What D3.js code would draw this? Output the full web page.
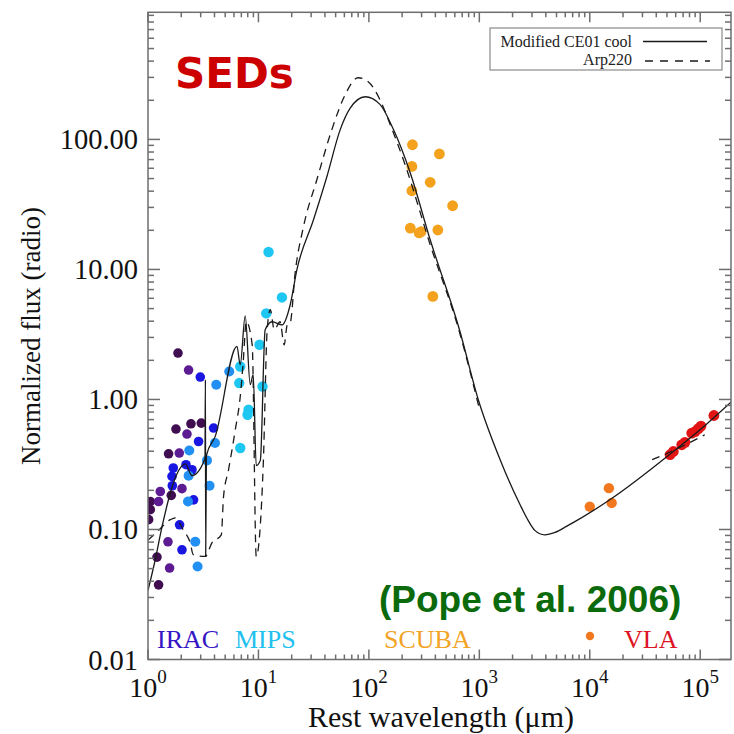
<!DOCTYPE html>
<html>
<head>
<meta charset="utf-8">
<script src="https://cdn.jsdelivr.net/npm/d3@7"></script>
<style>
  body { margin: 0; background: #fff; }
  svg { display: block; }
</style>
</head>
<body>
<svg id="chart" width="734" height="734"></svg>
<script>
// ---- Templates: [rest wavelength (um), normalized flux] ----
const modelCE01 = [
  [1.0, 0.034], [1.16, 0.058], [1.34, 0.105], [1.59, 0.19], [1.80, 0.26],
  [2.18, 0.32], [2.50, 0.26], [3.28, 0.35], [3.31, 1.42], [3.33, 0.062],
  [3.38, 0.37], [4.06, 0.52], [6.39, 2.56], [6.84, 1.85], [7.59, 4.4],
  [8.43, 1.30], [8.97, 1.55], [9.55, 0.31], [10.4, 0.34], [11.5, 3.43],
  [13.3, 3.96], [16.4, 3.75], [19.4, 5.35], [22.3, 9.95], [31.5, 24.1],
  [41.7, 51.9], [55.0, 119], [67.7, 174], [92.7, 213], [126, 186],
  [167, 119], [237, 55.2], [359, 16.9], [661, 3.44], [977, 1.0],
  [1543, 0.344], [2340, 0.155], [2700, 0.122], [3200, 0.098], [3900, 0.091],
  [4850, 0.095], [6200, 0.106], [15300, 0.17], [57100, 0.398], [99600, 0.585],
  [192800, 0.966]
];
const arp220 = [
  [1.0, 0.083], [1.21, 0.096], [1.59, 0.119], [1.77, 0.123], [2.08, 0.0995],
  [2.41, 0.079], [2.57, 0.064], [3.30, 0.062], [3.79, 0.079], [4.61, 0.091],
  [4.83, 0.179], [5.36, 0.288], [6.17, 0.585], [6.84, 1.05], [7.28, 1.95],
  [7.76, 3.96], [8.78, 2.63], [9.55, 0.062], [11.07, 0.326], [12.0, 3.44],
  [12.8, 4.9], [13.9, 3.44], [15.7, 3.96], [17.1, 2.63], [18.2, 3.74],
  [19.4, 3.89], [21.5, 9.42], [25.6, 21.4], [33.8, 49], [46.2, 119],
  [61, 221], [80, 298], [98.6, 278], [126, 202], [156, 130],
  [213, 63.8], [359, 15.5], [661, 3.3], [1000, 0.85]
];
const arp220Radio = [[36700, 0.344], [59100, 0.41], [110000, 0.535]];

// ---- Photometry ----
const iracDark = [
  [1.869, 2.275], [1.792, 0.592], [2.449, 0.650], [3.037, 0.658], [1.536, 0.382],
  [1.625, 0.183], [1.049, 0.164], [1.049, 0.142], [1.013, 0.119], [1.206, 0.0613],
  [1.247, 0.0375]
];
const iracPurple = [
  [2.331, 1.684], [2.254, 0.542], [1.920, 0.387], [2.031, 0.206], [1.292, 0.196],
  [1.247, 0.164], [1.517, 0.0804], [1.569, 0.0505]
];
const iracBlue = [
  [2.974, 1.487], [3.924, 0.603], [2.870, 0.475], [1.694, 0.297], [1.649, 0.256],
  [2.207, 0.315], [2.501, 0.288], [1.660, 0.217], [2.586, 0.169], [1.932, 0.1087],
  [2.031, 0.0698]
];
const mipsBlue = [
  [4.150, 1.297], [5.441, 1.642], [4.040, 0.462], [2.365, 0.405], [3.420, 0.340],
  [2.331, 0.259], [3.610, 0.217], [2.301, 0.164], [2.679, 0.0804], [2.811, 0.0519]
];
const mipsCyan = [
  [6.844, 1.794], [6.702, 1.337], [10.23, 2.636], [10.89, 1.259], [8.136, 0.833],
  [7.968, 0.763], [6.844, 0.423], [12.34, 13.61], [16.32, 6.09], [11.77, 4.59]
];
const scuba = [
  [248, 91.0], [435, 77.3], [245, 62.0], [359, 46.8], [245, 40.3], [573, 30.9],
  [237, 20.8], [285, 19.1], [297, 19.5], [421, 20.1], [379, 6.2]
];
const radio14 = [[10000, 0.150], [14900, 0.208], [15800, 0.160]];
const vla = [
  [57100, 0.398], [53300, 0.376], [68000, 0.448], [72800, 0.468], [83800, 0.551],
  [89800, 0.565], [96200, 0.596], [101700, 0.624], [133000, 0.753]
];

// ---- Axis ticks ----
const yTickValues = [0.01, 0.1, 1, 10, 100];
const yTickLabels = ["0.01", "0.10", "1.00", "10.00", "100.00"];
const xTickExponents = [0, 1, 2, 3, 4, 5];

const svg = d3.select("#chart");
const L = 148, R = 731, T = 12.3, B = 659.5;

const x = d3.scaleLog().domain([1, 1.9e5]).range([L, R]);
const y = d3.scaleLog().domain([0.01, 950]).range([B, T]);

const serif = "'Liberation Serif', 'DejaVu Serif', serif";
const axisColor = "#6e6e6e";

// clip for the plotted data
svg.append("defs").append("clipPath").attr("id", "plotClip")
  .append("rect").attr("x", L).attr("y", T).attr("width", R - L).attr("height", B - T);

const plot = svg.append("g").attr("clip-path", "url(#plotClip)");

// photometry points
const groups = [
  { data: iracDark, color: "#3f0d50", r: 4.8 },
  { data: iracPurple, color: "#5c1b92", r: 4.8 },
  { data: iracBlue, color: "#1a16e2", r: 4.8 },
  { data: mipsBlue, color: "#2190f2", r: 5.0 },
  { data: mipsCyan, color: "#1ec6f2", r: 5.2 },
  { data: scuba, color: "#f4a21e", r: 5.4 },
  { data: radio14, color: "#f27820", r: 5.2 },
  { data: vla, color: "#e21414", r: 5.4 }
];
groups.forEach(g => {
  plot.append("g").selectAll("circle").data(g.data).join("circle")
    .attr("cx", d => x(d[0])).attr("cy", d => y(d[1]))
    .attr("r", g.r).attr("fill", g.color);
});

// templates
const line = d3.line().x(d => x(d[0])).y(d => y(d[1])).curve(d3.curveMonotoneX);
plot.append("path").datum(modelCE01).attr("d", line)
  .attr("fill", "none").attr("stroke", "#1a1a1a").attr("stroke-width", 1.3);
[arp220, arp220Radio].forEach(seg => {
  plot.append("path").datum(seg).attr("d", line)
    .attr("fill", "none").attr("stroke", "#1a1a1a").attr("stroke-width", 1.3)
    .attr("stroke-dasharray", "8,6");
});

// ---- frame and ticks ----
const axes = svg.append("g").attr("stroke", axisColor).attr("stroke-width", 1.5);
axes.append("rect").attr("x", L).attr("y", T).attr("width", R - L).attr("height", B - T)
  .attr("fill", "none");

const xMajor = xTickExponents.map(e => Math.pow(10, e));
const xMinor = [];
xTickExponents.forEach(e => {
  for (let k = 2; k <= 9; k++) {
    const v = k * Math.pow(10, e);
    if (v < 1.9e5) xMinor.push(v);
  }
});
xMajor.forEach(v => {
  axes.append("line").attr("x1", x(v)).attr("x2", x(v)).attr("y1", B).attr("y2", B - 10);
  axes.append("line").attr("x1", x(v)).attr("x2", x(v)).attr("y1", T).attr("y2", T + 10);
});
xMinor.forEach(v => {
  axes.append("line").attr("x1", x(v)).attr("x2", x(v)).attr("y1", B).attr("y2", B - 5);
  axes.append("line").attr("x1", x(v)).attr("x2", x(v)).attr("y1", T).attr("y2", T + 5);
});

const yMinor = [];
[-2, -1, 0, 1, 2].forEach(e => {
  for (let k = 2; k <= 9; k++) {
    const v = k * Math.pow(10, e);
    if (v < 950) yMinor.push(v);
  }
});
yTickValues.forEach(v => {
  axes.append("line").attr("x1", L).attr("x2", L + 12).attr("y1", y(v)).attr("y2", y(v));
  axes.append("line").attr("x1", R).attr("x2", R - 12).attr("y1", y(v)).attr("y2", y(v));
});
yMinor.forEach(v => {
  axes.append("line").attr("x1", L).attr("x2", L + 6).attr("y1", y(v)).attr("y2", y(v));
  axes.append("line").attr("x1", R).attr("x2", R - 6).attr("y1", y(v)).attr("y2", y(v));
});

// y tick labels
svg.append("g").selectAll("text").data(yTickValues).join("text")
  .attr("x", 138).attr("y", d => y(d) + 10)
  .attr("text-anchor", "end")
  .attr("font-family", serif).attr("font-size", 28.5).attr("fill", "#111")
  .text((d, i) => yTickLabels[i]);

// x tick labels: 10^n
const xl = svg.append("g").selectAll("text").data(xTickExponents).join("text")
  .attr("x", d => x(Math.pow(10, d)))
  .attr("y", 697)
  .attr("text-anchor", "middle")
  .attr("font-family", serif).attr("font-size", 28).attr("fill", "#111");
xl.append("tspan").text("10");
xl.append("tspan").attr("font-size", 19).attr("dy", -14).text(d => d);

// axis titles
svg.append("text").attr("x", 441).attr("y", 727).attr("text-anchor", "middle")
  .attr("font-family", serif).attr("font-size", 30).attr("fill", "#111")
  .text("Rest wavelength (\u03bcm)");
svg.append("text")
  .attr("transform", "translate(40,336) rotate(-90)")
  .attr("text-anchor", "middle")
  .attr("font-family", serif).attr("font-size", 27).attr("fill", "#111")
  .text("Normalized flux (radio)");

// legend
const lg = svg.append("g");
lg.append("rect").attr("x", 490).attr("y", 28).attr("width", 232).attr("height", 42)
  .attr("fill", "#fff").attr("stroke", "#8a8a8a").attr("stroke-width", 1.2);
lg.append("text").attr("x", 632).attr("y", 46.5).attr("text-anchor", "end")
  .attr("font-family", serif).attr("font-size", 16).attr("fill", "#222")
  .text("Modified CE01 cool");
lg.append("text").attr("x", 632).attr("y", 65).attr("text-anchor", "end")
  .attr("font-family", serif).attr("font-size", 16).attr("fill", "#222")
  .text("Arp220");
lg.append("line").attr("x1", 643).attr("x2", 707).attr("y1", 41.5).attr("y2", 41.5)
  .attr("stroke", "#1a1a1a").attr("stroke-width", 1.3);
lg.append("line").attr("x1", 645).attr("x2", 710).attr("y1", 61).attr("y2", 61)
  .attr("stroke", "#1a1a1a").attr("stroke-width", 1.3).attr("stroke-dasharray", "8,7");

// annotations
svg.append("text").attr("x", 175).attr("y", 88)
  .attr("font-family", "'DejaVu Sans', sans-serif").attr("font-weight", "bold")
  .attr("font-size", 42).attr("fill", "#cc0000").text("SEDs");
svg.append("text").attr("x", 379).attr("y", 612)
  .attr("font-family", "'Liberation Sans', Arial, sans-serif").attr("font-weight", "bold")
  .attr("font-size", 37).attr("fill", "#0b6a0b").text("(Pope et al. 2006)");

// instrument labels
const instLabels = [
  { text: "IRAC", x: 157, color: "#3414c4" },
  { text: "MIPS", x: 235, color: "#22c0ee" },
  { text: "SCUBA", x: 384, color: "#f2a326" },
  { text: "VLA", x: 624, color: "#dc1424" }
];
svg.append("g").selectAll("text").data(instLabels).join("text")
  .attr("x", d => d.x).attr("y", 648)
  .attr("font-family", serif).attr("font-size", 26).attr("fill", d => d.color)
  .text(d => d.text);
svg.append("circle").attr("cx", 590).attr("cy", 636).attr("r", 4.2).attr("fill", "#f27820");
</script>
</body>
</html>
